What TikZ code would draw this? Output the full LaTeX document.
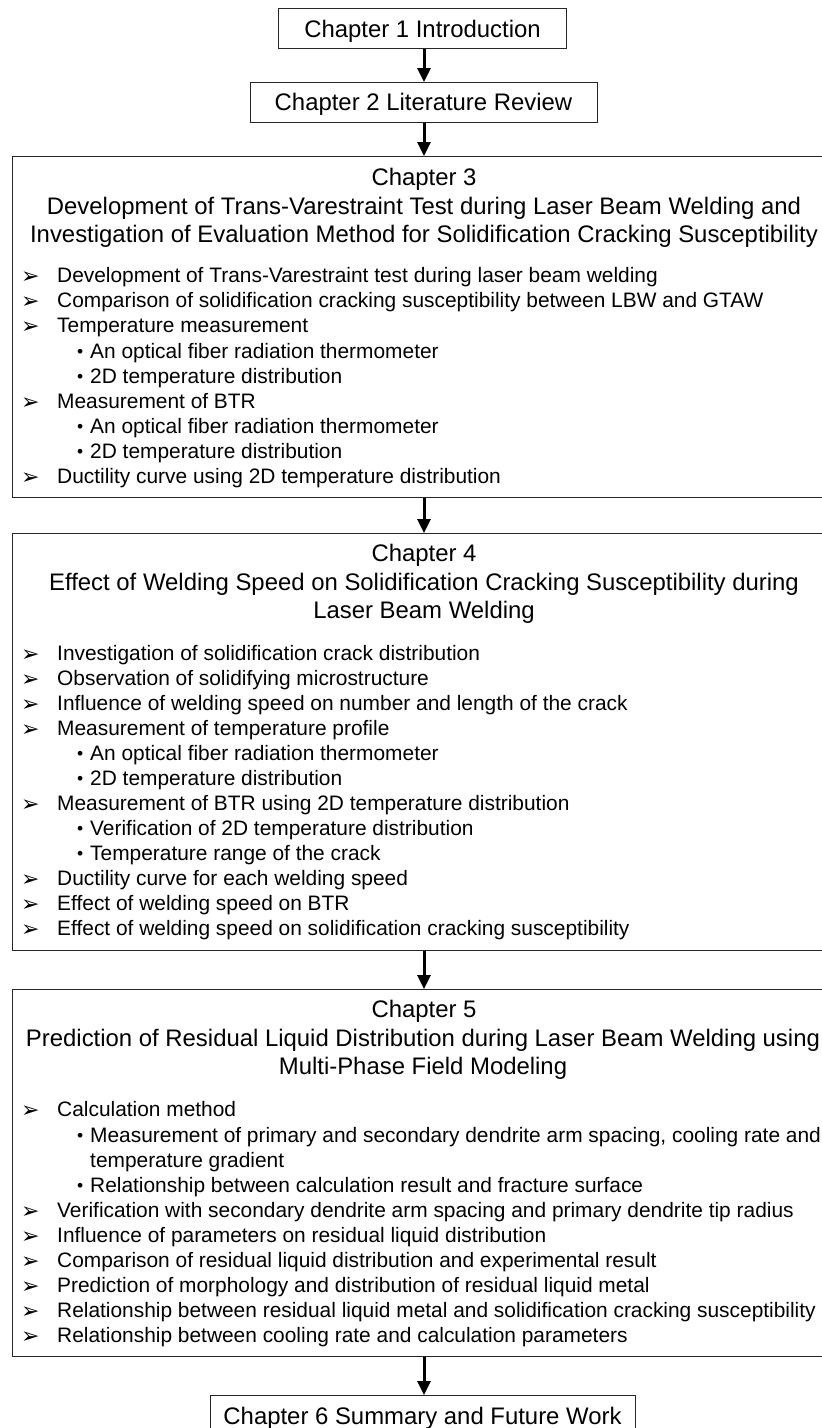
\documentclass[tikz,border=0pt]{standalone}
\usepackage{fontspec}
\setmainfont{Liberation Sans}
\newfontfamily\dejavu{DejaVu Sans}
\usetikzlibrary{arrows.meta}
\begin{document}
\begin{tikzpicture}[x=1pt,y=-1pt,
  box/.style={draw=black!85,line width=1.4pt,inner sep=0pt,anchor=north west},
  ttl/.style={inner sep=0pt,anchor=base,font=\fontsize{23.9}{28}\selectfont},
  itm/.style={inner sep=0pt,anchor=base west,font=\fontsize{20.9}{25}\selectfont},
  mk/.style={inner sep=0pt,anchor=base west,font=\dejavu\fontsize{22}{24}\selectfont},
  dot/.style={inner sep=0pt,anchor=base west,font=\fontsize{17.5}{20}\selectfont},
  flow/.style={line width=3pt,-{Triangle[width=13pt,length=14pt]}},
]
\useasboundingbox (0,0) rectangle (822,1428);
\clip (0,0) rectangle (822,1428);
\fill[white] (0,0) rectangle (822,1428);

% boxes
\node[box,minimum width=288pt,minimum height=40pt] (b1) at (278,8) {};
\node[box,minimum width=347pt,minimum height=40pt] (b2) at (250,82) {};
\node[box,minimum width=830pt,minimum height=341pt] (b3) at (12,156) {};
\node[box,minimum width=830pt,minimum height=417pt] (b4) at (12,533) {};
\node[box,minimum width=830pt,minimum height=367pt] (b5) at (12,989) {};
\node[box,minimum width=425pt,minimum height=60pt] (b6) at (210,1395) {};
\coordinate (col) at (424,0);

% arrows
\draw[flow] (b1.south -| col) -- (b2.north -| col);
\draw[flow] (b2.south -| col) -- (b3.north -| col);
\draw[flow] (b3.south -| col) -- (b4.north -| col);
\draw[flow] (b4.south -| col) -- (b5.north -| col);
\draw[flow] (b5.south -| col) -- (b6.north -| col);

% titles
\node[ttl] (t1) at (422.5,37) {Chapter 1 Introduction};
\node[ttl] (t2) at (423.5,110) {Chapter 2 Literature Review};

\node[ttl] (t3a) at (424,185) {Chapter 3};
\node[ttl] (t3b) at (424,214) {Development of Trans-Varestraint Test during Laser Beam Welding and};
\node[ttl] (t3c) at (424,242) {Investigation of Evaluation Method for Solidification Cracking Susceptibility};

\node[ttl] (t4a) at (424,561) {Chapter 4};
\node[ttl] (t4b) at (424,590) {Effect of Welding Speed on Solidification Cracking Susceptibility during};
\node[ttl] (t4c) at (424,618) {Laser Beam Welding};

\node[ttl] (t5a) at (424,1017) {Chapter 5};
\node[ttl] (t5b) at (423,1046) {Prediction of Residual Liquid Distribution during Laser Beam Welding using};
\node[ttl] (t5c) at (423,1074) {Multi-Phase Field Modeling};

\node[ttl] (t6) at (422.5,1424) {Chapter 6 Summary and Future Work};

% chapter 3 items
\foreach \y/\t [count=\i] in {
  276/{Development of Trans-Varestraint test during laser beam welding},
  301/{Comparison of solidification cracking susceptibility between LBW and GTAW},
  326/{Temperature measurement},
  402/{Measurement of BTR},
  477/{Ductility curve using 2D temperature distribution}}{
  \node[mk] (m3\i) at (21,\y+7) {➢};
  \node[itm] (i3\i) at (57,\y+6) {\t};
}
\foreach \y/\t [count=\i] in {
  352/{An optical fiber radiation thermometer},
  377/{2D temperature distribution},
  427/{An optical fiber radiation thermometer},
  452/{2D temperature distribution}}{
  \node[dot] (d3\i) at (77,\y+5.5) {•};
  \node[itm] (s3\i) at (90,\y+6) {\t};
}

% chapter 4 items
\foreach \y/\t [count=\i] in {
  654/{Investigation of solidification crack distribution},
  679/{Observation of solidifying microstructure},
  704/{Influence of welding speed on number and length of the crack},
  729/{Measurement of temperature profile},
  804/{Measurement of BTR using 2D temperature distribution},
  879/{Ductility curve for each welding speed},
  904/{Effect of welding speed on BTR},
  929/{Effect of welding speed on solidification cracking susceptibility}}{
  \node[mk] (m4\i) at (21,\y+7) {➢};
  \node[itm] (i4\i) at (57,\y+6) {\t};
}
\foreach \y/\t [count=\i] in {
  754/{An optical fiber radiation thermometer},
  779/{2D temperature distribution},
  829/{Verification of 2D temperature distribution},
  854/{Temperature range of the crack}}{
  \node[dot] (d4\i) at (77,\y+5.5) {•};
  \node[itm] (s4\i) at (90,\y+6) {\t};
}

% chapter 5 items
\foreach \y/\t [count=\i] in {
  1110/{Calculation method},
  1211/{Verification with secondary dendrite arm spacing and primary dendrite tip radius},
  1236/{Influence of parameters on residual liquid distribution},
  1261/{Comparison of residual liquid distribution and experimental result},
  1286/{Prediction of morphology and distribution of residual liquid metal},
  1311/{Relationship between residual liquid metal and solidification cracking susceptibility},
  1336/{Relationship between cooling rate and calculation parameters}}{
  \node[mk] (m5\i) at (21,\y+7) {➢};
  \node[itm] (i5\i) at (57,\y+6) {\t};
}
\foreach \y/\t [count=\i] in {
  1136/{Measurement of primary and secondary dendrite arm spacing, cooling rate and},
  1186/{Relationship between calculation result and fracture surface}}{
  \node[dot] (d5\i) at (77,\y+5.5) {•};
  \node[itm] (s5\i) at (90,\y+6) {\t};
}
\node[itm] (s5c) at (90,1167) {temperature gradient};
\end{tikzpicture}
\end{document}
